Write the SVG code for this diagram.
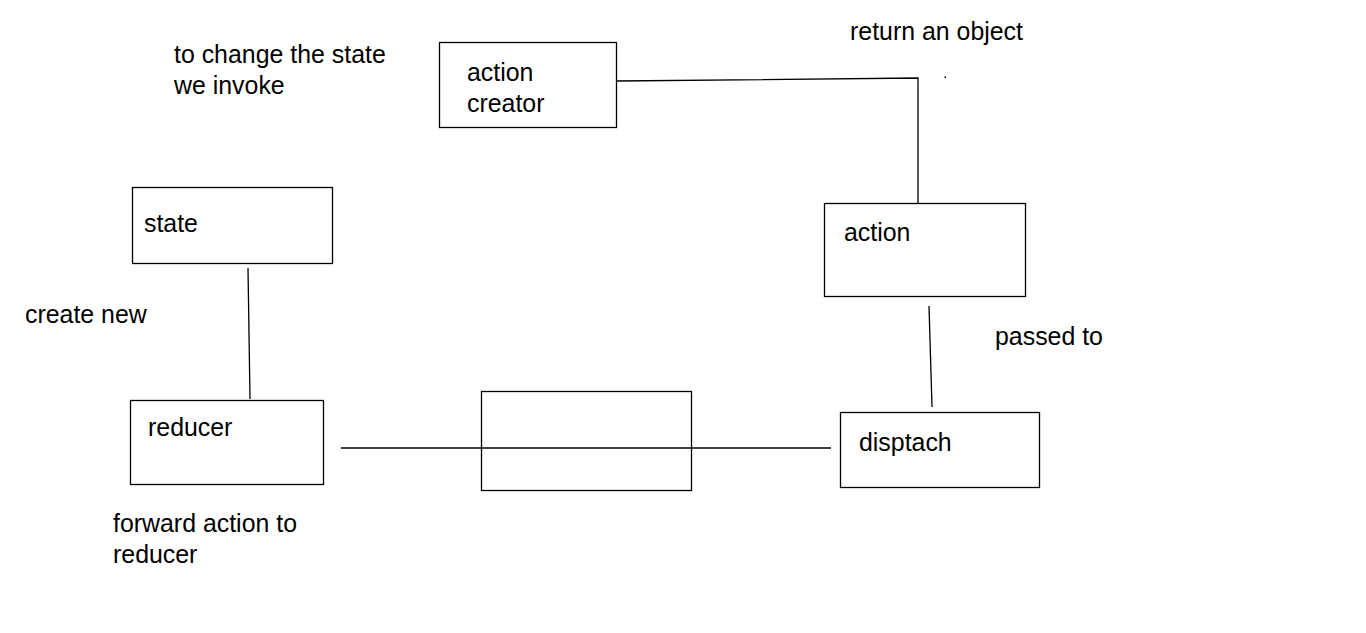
<svg xmlns="http://www.w3.org/2000/svg" width="1366" height="633" viewBox="0 0 1366 633">
<style>
  .box { fill: #fff; stroke: #000; stroke-width: 1.3; }
  .lbl { font-family: "Liberation Sans", Arial, sans-serif; font-size: 24.9px; fill: #000; }
  .conn { stroke: #000; stroke-width: 1.3; fill: none; }
</style>
<rect width="1366" height="633" fill="#fff"/>
<g id="connectors">
  <polyline class="conn" points="617,81 918,78 918,203"/>
  <line class="conn" x1="929" y1="306" x2="932" y2="407"/>
  <line class="conn" x1="341" y1="448" x2="831" y2="448"/>
  <line class="conn" x1="248" y1="268" x2="250" y2="399"/>
  <rect x="944.5" y="76.5" width="1.5" height="1.5" fill="#000"/>
</g>
<g id="node-action-creator">
  <rect class="box" x="439.5" y="42.5" width="177" height="85"/>
  <text class="lbl" x="467" y="81">action</text>
  <text class="lbl" x="467" y="112">creator</text>
</g>
<g id="node-action">
  <rect class="box" x="824.5" y="203.5" width="201" height="93"/>
  <text class="lbl" x="844" y="241">action</text>
</g>
<g id="node-dispatch">
  <rect class="box" x="840.5" y="412.5" width="199" height="75"/>
  <text class="lbl" x="859" y="451">disptach</text>
</g>
<g id="node-middle">
  <rect class="box" x="481.5" y="391.5" width="210" height="99" style="fill:none"/>
</g>
<g id="node-reducer">
  <rect class="box" x="130.5" y="400.5" width="193" height="84"/>
  <text class="lbl" x="148" y="436">reducer</text>
</g>
<g id="node-state">
  <rect class="box" x="132.5" y="187.5" width="200" height="76"/>
  <text class="lbl" x="144" y="232">state</text>
</g>
<g id="labels">
  <text class="lbl" x="174" y="63">to change the state</text>
  <text class="lbl" x="174" y="94">we invoke</text>
  <text class="lbl" x="850" y="40">return an object</text>
  <text class="lbl" x="995" y="345">passed to</text>
  <text class="lbl" x="25" y="323">create new</text>
  <text class="lbl" x="113" y="532">forward action to</text>
  <text class="lbl" x="113" y="563">reducer</text>
</g>
</svg>
